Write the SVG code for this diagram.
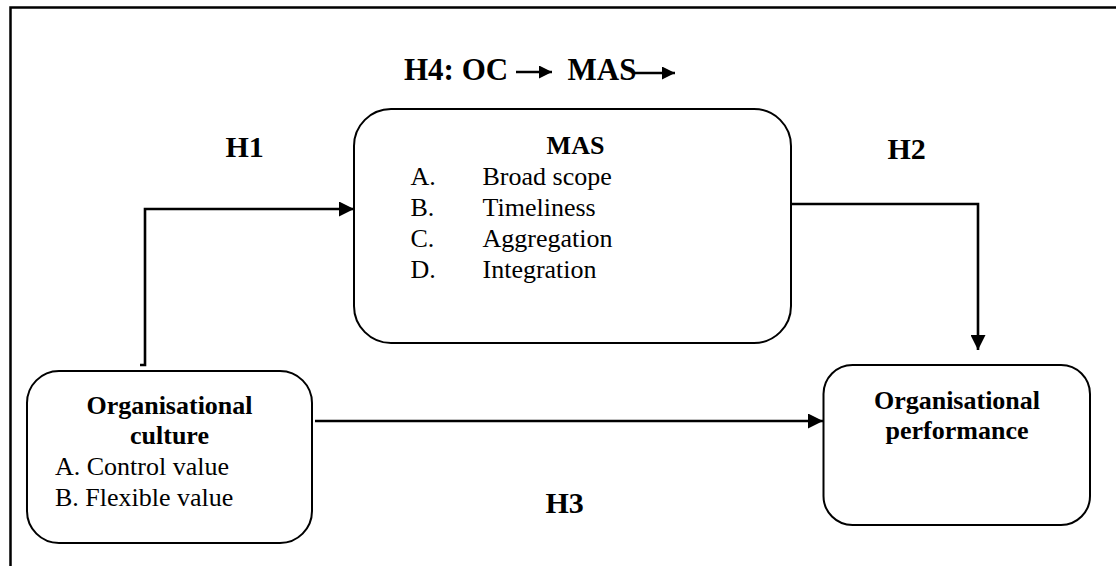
<svg xmlns="http://www.w3.org/2000/svg" width="1116" height="566" viewBox="0 0 1116 566" font-family="Liberation Serif, Tinos, DejaVu Serif, serif">
  <style>
    .frame { fill: none; stroke: #000; stroke-width: 2.5; }
    .box { fill: #fff; stroke: #000; stroke-width: 2; }
    .link { fill: none; stroke: #000; stroke-width: 2.6; }
    .hd { font-weight: bold; fill: #000; }
    .tx { font-size: 26px; fill: #000; }
  </style>
  <defs>
    <marker id="arrow" markerUnits="userSpaceOnUse" markerWidth="15" markerHeight="15" refX="15" refY="7.5" orient="auto">
      <path d="M0,0 L15,7.5 L0,15 Z" fill="#000"/>
    </marker>
    <marker id="arrowSmall" markerUnits="userSpaceOnUse" markerWidth="13" markerHeight="13" refX="13" refY="6.5" orient="auto">
      <path d="M0,0 L13,6.5 L0,13 Z" fill="#000"/>
    </marker>
  </defs>

  <rect width="1116" height="566" fill="#fff"/>

  <!-- open page frame: top and left edges only -->
  <path class="frame" d="M10.5,566 V7.5 H1116"/>

  <!-- heading for the mediated path -->
  <g id="h4-title">
    <text class="hd" x="404" y="80" font-size="31">H4: OC</text>
    <line class="link" x1="516" y1="72" x2="552" y2="72" stroke-width="2.4" marker-end="url(#arrowSmall)"/>
    <text class="hd" x="567.5" y="80" font-size="31">MAS</text>
    <line class="link" x1="633" y1="73" x2="675" y2="73" stroke-width="2.4" marker-end="url(#arrowSmall)"/>
  </g>

  <!-- connectors -->
  <g id="connectors">
    <path class="link" d="M140,365 H145 V209 H354" marker-end="url(#arrow)"/>
    <path class="link" d="M791,204 H978 V350" marker-end="url(#arrow)"/>
    <path class="link" d="M315,421 H823" marker-end="url(#arrow)"/>
  </g>

  <!-- hypothesis labels -->
  <g id="label-h1"><text class="hd" x="225.5" y="157" font-size="30">H1</text></g>
  <g id="label-h2"><text class="hd" x="887.5" y="159" font-size="30">H2</text></g>
  <g id="label-h3"><text class="hd" x="545.5" y="513" font-size="30">H3</text></g>

  <!-- management accounting systems -->
  <g id="node-mas">
    <rect class="box" x="354" y="109" width="437" height="234" rx="37" ry="37"/>
    <text class="hd" x="575.5" y="154" font-size="26" text-anchor="middle">MAS</text>
    <text class="tx" x="410.5" y="185">A.</text>
    <text class="tx" x="482.5" y="185">Broad scope</text>
    <text class="tx" x="410.5" y="216">B.</text>
    <text class="tx" x="482.5" y="216">Timeliness</text>
    <text class="tx" x="410.5" y="247">C.</text>
    <text class="tx" x="482.5" y="247">Aggregation</text>
    <text class="tx" x="410.5" y="278">D.</text>
    <text class="tx" x="482.5" y="278">Integration</text>
  </g>

  <!-- organisational culture -->
  <g id="node-culture">
    <rect class="box" x="27" y="371" width="285" height="172" rx="32" ry="32"/>
    <text class="hd" x="169.5" y="414" font-size="26" text-anchor="middle">Organisational</text>
    <text class="hd" x="169.5" y="443.5" font-size="26" text-anchor="middle">culture</text>
    <text class="tx" x="55" y="475">A. Control value</text>
    <text class="tx" x="55" y="506">B. Flexible value</text>
  </g>

  <!-- organisational performance -->
  <g id="node-performance">
    <rect class="box" x="823.5" y="365" width="266.5" height="160" rx="29" ry="29"/>
    <text class="hd" x="957" y="408.5" font-size="26" text-anchor="middle">Organisational</text>
    <text class="hd" x="957" y="438.5" font-size="26" text-anchor="middle">performance</text>
  </g>
</svg>
